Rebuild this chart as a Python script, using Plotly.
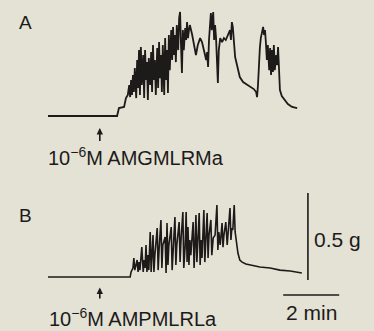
import plotly.graph_objects as go

# Trace A: 10^-6 M AMGMLRMa  (time in s, tension in mg above baseline)
time_a = [0, 148, 152, 163, 167, 171, 174, 176, 178, 180, 182, 184, 186, 189, 191, 193, 195, 197, 199, 201,
          204, 206, 208, 210, 212, 214, 216, 219, 221, 223, 225, 227, 229, 231, 234, 236, 238, 240, 242, 244,
          246, 249, 251, 253, 255, 257, 259, 261, 264, 266, 268, 270, 272, 274, 276, 279, 281, 283, 285, 287,
          289, 291, 294, 296, 298, 300, 302, 304, 309, 313, 317, 321, 326, 330, 334, 339, 341, 343, 345, 347,
          349, 351, 354, 356, 358, 360, 362, 364, 366, 369, 373, 377, 381, 386, 390, 392, 394, 396, 399, 401,
          405, 411, 418, 424, 431, 437, 441, 446, 448, 450, 452, 454, 456, 459, 461, 463, 465, 467, 469, 471,
          474, 476, 478, 480, 482, 484, 486, 489, 491, 493, 495, 497, 501, 508, 514, 523, 534]
tension_a = [0, 0, 46, 52, 103, 121, 178, 109, 207, 121, 236, 138, 276, 103, 322, 161, 379, 121, 397, 178,
             351, 103, 379, 207, 310, 92, 333, 178, 368, 138, 408, 207, 322, 121, 391, 161, 425, 218, 351, 138,
             408, 121, 448, 207, 379, 132, 466, 264, 494, 322, 512, 351, 466, 310, 523, 379, 563, 598, 408, 247,
             494, 379, 506, 437, 540, 448, 494, 523, 466, 408, 351, 408, 448, 425, 379, 322, 368, 282, 437, 523,
             592, 494, 598, 437, 523, 454, 322, 190, 379, 448, 425, 448, 437, 466, 494, 437, 540, 512, 379, 339,
             293, 224, 195, 184, 172, 161, 155, 138, 109, 178, 322, 391, 448, 494, 512, 466, 494, 420, 322, 408,
             264, 391, 236, 379, 253, 408, 264, 351, 293, 397, 236, 149, 115, 92, 69, 52, 46]

# Trace B: 10^-6 M AMPMLRLa
time_b = [0, 176, 178, 182, 184, 186, 189, 191, 193, 195, 197, 201, 204, 206, 208, 210, 212, 214, 216, 219,
          221, 223, 225, 227, 229, 234, 236, 238, 242, 244, 246, 251, 253, 255, 257, 259, 264, 266, 268, 272,
          274, 276, 281, 283, 285, 289, 291, 294, 296, 298, 300, 302, 304, 306, 311, 313, 315, 317, 319, 324,
          326, 328, 330, 334, 336, 339, 341, 343, 345, 349, 351, 354, 358, 362, 364, 366, 369, 373, 375, 377,
          381, 384, 386, 390, 392, 394, 396, 399, 401, 405, 407, 411, 416, 424, 433, 454, 476, 497, 519, 544]
tension_b = [0, 0, 29, 52, 109, 40, 75, 98, 29, 86, 40, 172, 29, 98, 52, 184, 29, 126, 40, 259,
             29, 109, 241, 29, 126, 282, 40, 155, 328, 52, 184, 230, 23, 310, 69, 184, 287, 40, 155, 345,
             69, 184, 316, 86, 213, 374, 52, 184, 374, 86, 287, 69, 213, 126, 316, 52, 184, 356, 86, 368,
             69, 213, 109, 385, 86, 224, 368, 109, 241, 328, 126, 224, 241, 414, 155, 259, 184, 310, 172, 241,
             316, 184, 270, 397, 213, 282, 270, 414, 259, 184, 138, 98, 86, 75, 69, 58, 52, 40, 35, 23]

# calibration
bar_time = [557, 557]          # s
bar_tension = [-17, 483]       # 0.5 g = 500 mg
min_bar_time = [504, 624]      # 2 min = 120 s
min_bar_tension = [-103, -103]

drug_time = 111  # s, arrow position

ink = "#1c1b19"
bg = "#e4e1d5"
font_family = "Liberation Sans, Arial, Helvetica, sans-serif"

fig = go.Figure()
fig.add_trace(go.Scatter(x=time_a, y=tension_a, mode="lines",
                         line=dict(color=ink, width=1.8), yaxis="y", hoverinfo="skip"))
fig.add_trace(go.Scatter(x=time_b, y=tension_b, mode="lines",
                         line=dict(color=ink, width=1.6), yaxis="y2", hoverinfo="skip"))
fig.add_trace(go.Scatter(x=bar_time, y=bar_tension, mode="lines",
                         line=dict(color=ink, width=1.6), yaxis="y2", hoverinfo="skip"))
fig.add_trace(go.Scatter(x=min_bar_time, y=min_bar_tension, mode="lines",
                         line=dict(color=ink, width=1.6), yaxis="y2", hoverinfo="skip"))

ann = []
# arrows
ann.append(dict(x=drug_time, y=-69, ax=drug_time, ay=-152, xref="x", yref="y", axref="x", ayref="y",
                showarrow=True, arrowhead=2, arrowsize=0.8, arrowwidth=1.6, arrowcolor=ink, text=""))
ann.append(dict(x=drug_time, y=-60, ax=drug_time, ay=-132, xref="x", yref="y2", axref="x", ayref="y2",
                showarrow=True, arrowhead=2, arrowsize=0.8, arrowwidth=1.6, arrowcolor=ink, text=""))
# labels
ann.append(dict(x=-4, y=-232, xref="x", yref="y", xanchor="left", yanchor="middle", showarrow=False,
                text="10<sup>−6</sup>M AMGMLRMa", font=dict(size=20, color=ink, family=font_family)))
ann.append(dict(x=-2, y=-232, xref="x", yref="y2", xanchor="left", yanchor="middle", showarrow=False,
                text="10<sup>−6</sup>M AMPMLRLa", font=dict(size=20, color=ink, family=font_family)))
ann.append(dict(x=566, y=213, xref="x", yref="y2", xanchor="left", yanchor="middle", showarrow=False,
                text="0.5 g", font=dict(size=21, color=ink, family=font_family)))
ann.append(dict(x=564, y=-203, xref="x", yref="y2", xanchor="center", yanchor="middle", showarrow=False,
                text="2 min", font=dict(size=21, color=ink, family=font_family)))
ann.append(dict(x=25/374, y=1-22/331, xref="paper", yref="paper", xanchor="center", yanchor="middle",
                showarrow=False, text="A", font=dict(size=19, color=ink, family=font_family)))
ann.append(dict(x=25/374, y=1-215/331, xref="paper", yref="paper", xanchor="center", yanchor="middle",
                showarrow=False, text="B", font=dict(size=19, color=ink, family=font_family)))

fig.update_layout(
    width=374, height=331, margin=dict(l=0, r=0, t=0, b=0),
    paper_bgcolor=bg, plot_bgcolor=bg, showlegend=False,
    xaxis=dict(range=[-102.9, 698.6], visible=False, fixedrange=True),
    yaxis=dict(range=[-1236, 667], visible=False, fixedrange=True, domain=[0, 1]),
    yaxis2=dict(range=[-310, 1592], visible=False, fixedrange=True, overlaying="y"),
    annotations=ann,
)

fig.write_html("out.html", config={"displayModeBar": False},
               post_script="document.body.style.margin='0px';document.body.style.background='%s';" % bg)
